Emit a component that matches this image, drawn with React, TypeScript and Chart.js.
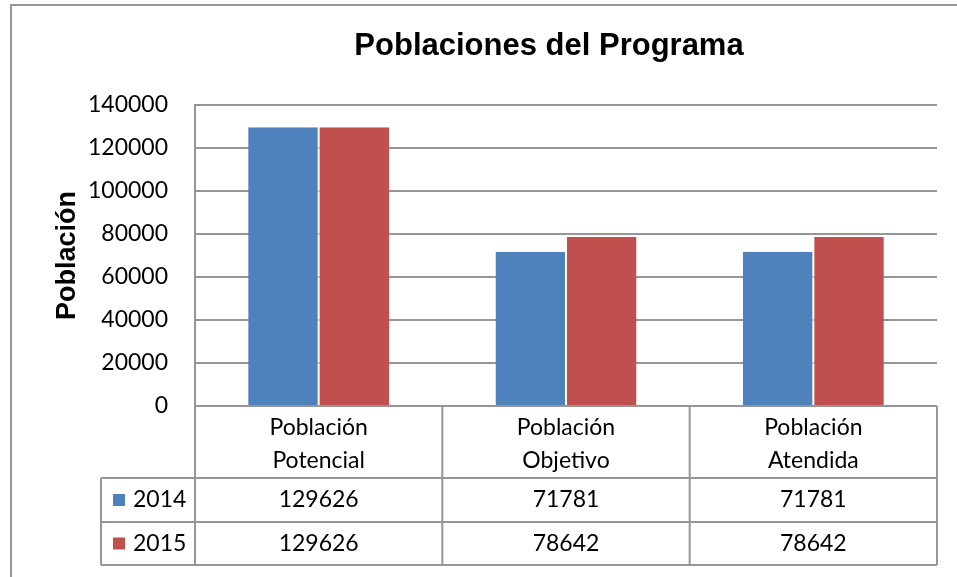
import React, { useEffect, useRef } from "react";
import { Chart, registerables } from "chart.js";

Chart.register(...registerables);

const chartTitle = "Poblaciones del Programa";
const yAxisTitle = "Población";
const categories: string[][] = [
  ["Población", "Potencial"],
  ["Población", "Objetivo"],
  ["Población", "Atendida"],
];
const seriesLabels = ["2014", "2015"];
const values2014 = [129626, 71781, 71781];
const values2015 = [129626, 78642, 78642];
const seriesColors = ["#4F81BD", "#C0504D"];
const yMin = 0;
const yMax = 140000;
const yStep = 20000;

const GRID = "#969696";
const TXT_FONT = '"Lato", "Open Sans", sans-serif';
const TXT_SIZE = 23;

const tablePlugin = {
  id: "dataTable",
  afterDraw(chart: any) {
    const ctx = chart.ctx;
    const x = chart.scales.x;
    const area = chart.chartArea;
    const n = categories.length;
    const catW = (area.right - area.left) / n;
    const top = area.bottom;
    const headerBottom = top + 72;
    const rowH = 44;
    const row1Bottom = headerBottom + rowH;
    const row2Bottom = row1Bottom + 43;
    const legendLeft = 101;

    ctx.save();
    // outer frame
    ctx.strokeStyle = GRID;
    ctx.lineWidth = 2;
    ctx.beginPath();
    ctx.moveTo(957, 5);
    ctx.lineTo(11, 5);
    ctx.lineTo(11, 577);
    ctx.stroke();

    // title
    ctx.fillStyle = "#000";
    ctx.font = 'bold 31px "Liberation Sans", Arial, sans-serif';
    ctx.textAlign = "center";
    ctx.textBaseline = "middle";
    ctx.fillText(chartTitle, 549, 46);

    // table lines
    ctx.strokeStyle = GRID;
    ctx.lineWidth = 2;
    ctx.beginPath();
    ctx.moveTo(area.left, top);
    ctx.lineTo(area.right, top);
    [headerBottom, row1Bottom, row2Bottom].forEach((yy) => {
      ctx.moveTo(legendLeft, yy);
      ctx.lineTo(area.right, yy);
    });
    for (let i = 0; i <= n; i++) {
      const xx = area.left + catW * i;
      ctx.moveTo(xx, top);
      ctx.lineTo(xx, row2Bottom);
    }
    ctx.moveTo(legendLeft, headerBottom);
    ctx.lineTo(legendLeft, row2Bottom);
    ctx.stroke();

    // header text
    ctx.fillStyle = "#000";
    ctx.font = `${TXT_SIZE}px ${TXT_FONT}`;
    ctx.textAlign = "center";
    ctx.textBaseline = "middle";
    categories.forEach((lines, i) => {
      const cx = x.getPixelForValue(i);
      lines.forEach((ln, j) => {
        ctx.fillText(ln, cx, top + 22 + j * 33);
      });
    });

    // rows
    const rows = [values2014, values2015];
    const rowCenters = [headerBottom + rowH / 2, row1Bottom + 21.5];
    rows.forEach((vals, r) => {
      const cy = rowCenters[r];
      vals.forEach((v, i) => {
        ctx.fillStyle = "#000";
        ctx.textAlign = "center";
        ctx.fillText(String(v), x.getPixelForValue(i), cy);
      });
      ctx.fillStyle = seriesColors[r];
      ctx.fillRect(113, cy - 6, 12, 12);
      ctx.fillStyle = "#000";
      ctx.textAlign = "left";
      ctx.fillText(seriesLabels[r], 133, cy);
    });
    ctx.restore();
  },
};

export default function App() {
  const ref = useRef<HTMLCanvasElement>(null);
  useEffect(() => {
    if (!ref.current) return;
    const chart = new Chart(ref.current, {
      type: "bar",
      data: {
        labels: categories.map((c) => c.join(" ")),
        datasets: [
          {
            label: seriesLabels[0],
            data: values2014,
            backgroundColor: seriesColors[0],
            borderColor: "#ffffff",
            borderWidth: { right: 1, left: 0, top: 0, bottom: 0 },
            categoryPercentage: 0.57,
            barPercentage: 1,
          },
          {
            label: seriesLabels[1],
            data: values2015,
            backgroundColor: seriesColors[1],
            borderColor: "#ffffff",
            borderWidth: { left: 1, right: 0, top: 0, bottom: 0 },
            categoryPercentage: 0.57,
            barPercentage: 1,
          },
        ],
      },
      options: {
        responsive: false,
        animation: false,
        layout: { padding: { top: 105, right: 20, bottom: 171, left: 0 } },
        plugins: {
          legend: { display: false },
          title: { display: false },
          tooltip: { enabled: false },
        },
        scales: {
          x: {
            display: false,
            offset: true,
          },
          y: {
            min: yMin,
            max: yMax,
            afterFit: (s: any) => {
              s.width = 195;
            },
            ticks: {
              stepSize: yStep,
              padding: 27,
              color: "#000",
              font: { family: TXT_FONT, size: TXT_SIZE },
              callback: (v: any) => String(v),
            },
            grid: { color: GRID, lineWidth: 2, drawTicks: false },
            border: { display: true, color: GRID, width: 2 },
            title: {
              display: true,
              text: yAxisTitle,
              color: "#000",
              font: { family: '"Liberation Sans", Arial, sans-serif', size: 27, weight: "bold" },
              padding: { top: 51, bottom: 0 },
            },
          },
        },
      },
      plugins: [tablePlugin],
    });
    return () => chart.destroy();
  }, []);
  return (
    <div style={{ position: "fixed", left: 0, top: 0, width: 957, height: 577, background: "#fff" }}>
      <canvas ref={ref} width={957} height={577} />
    </div>
  );
}
